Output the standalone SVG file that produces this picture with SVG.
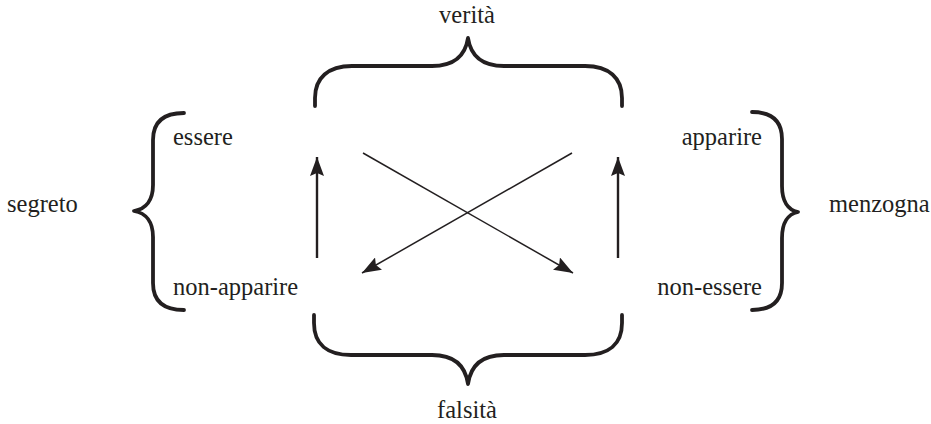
<svg xmlns="http://www.w3.org/2000/svg" width="931" height="424" viewBox="0 0 931 424">
<style>
  text { font-family: "Liberation Serif", "Times New Roman", serif; font-size: 24.5px; fill: #231f20; }
  .brace { fill: none; stroke: #231f20; stroke-width: 3.8; stroke-linecap: round; stroke-linejoin: round; }
  .up { stroke: #231f20; stroke-width: 2.4; fill: none; }
  .diag { stroke: #231f20; stroke-width: 1.5; fill: none; }
</style>
<defs>
  <marker id="head" markerUnits="userSpaceOnUse" markerWidth="20" markerHeight="14" refX="19" refY="7" orient="auto" viewBox="0 0 20 14">
    <path d="M0,0 L19,7 L0,14 L3,7 z" fill="#231f20"/>
  </marker>
</defs>
<rect width="931" height="424" fill="#ffffff"/>

<g id="brace-top"><path class="brace" d="M315,106 L315,98 C315,78 328,66 352,66 L432,66 C452,66 465,58 468,38 C471,58 484,66 504,66 L585,66 C609,66 622,78 622,98 L622,106"/></g>
<g id="brace-bottom"><path class="brace" d="M314,315 L314,323 C314,344 327,355 351,355 L432,355 C452,355 465,363 468,384 C471,363 484,355 504,355 L585,355 C609,355 622,344 622,323 L622,315"/></g>
<g id="brace-left"><path class="brace" d="M184,113 C166,113 153,120 153,140 L153,185 C153,200 146,209 134,211 C146,213 153,222 153,237 L153,283 C153,303 166,310 184,310"/></g>
<g id="brace-right"><path class="brace" d="M752,112 C770,112 782,119 782,139 L782,186 C782,201 788,210 798,212 C788,214 782,223 782,238 L782,283 C782,303 770,310 752,310"/></g>

<g id="connectors">
  <line class="up" x1="317" y1="258" x2="317" y2="157" marker-end="url(#head)"/>
  <line class="up" x1="618" y1="258" x2="618" y2="157" marker-end="url(#head)"/>
  <line class="diag" x1="363" y1="153" x2="573" y2="273" marker-end="url(#head)"/>
  <line class="diag" x1="572" y1="153" x2="362" y2="273" marker-end="url(#head)"/>
</g>

<g id="verita"><text x="467" y="23" text-anchor="middle">verità</text></g>
<g id="falsita"><text x="467" y="418" text-anchor="middle">falsità</text></g>
<g id="segreto"><text x="7" y="212">segreto</text></g>
<g id="menzogna"><text x="829" y="212">menzogna</text></g>
<g id="essere"><text x="173" y="145">essere</text></g>
<g id="non-apparire"><text x="173" y="295">non-apparire</text></g>
<g id="apparire"><text x="762" y="145" text-anchor="end">apparire</text></g>
<g id="non-essere"><text x="762" y="295" text-anchor="end">non-essere</text></g>
</svg>
